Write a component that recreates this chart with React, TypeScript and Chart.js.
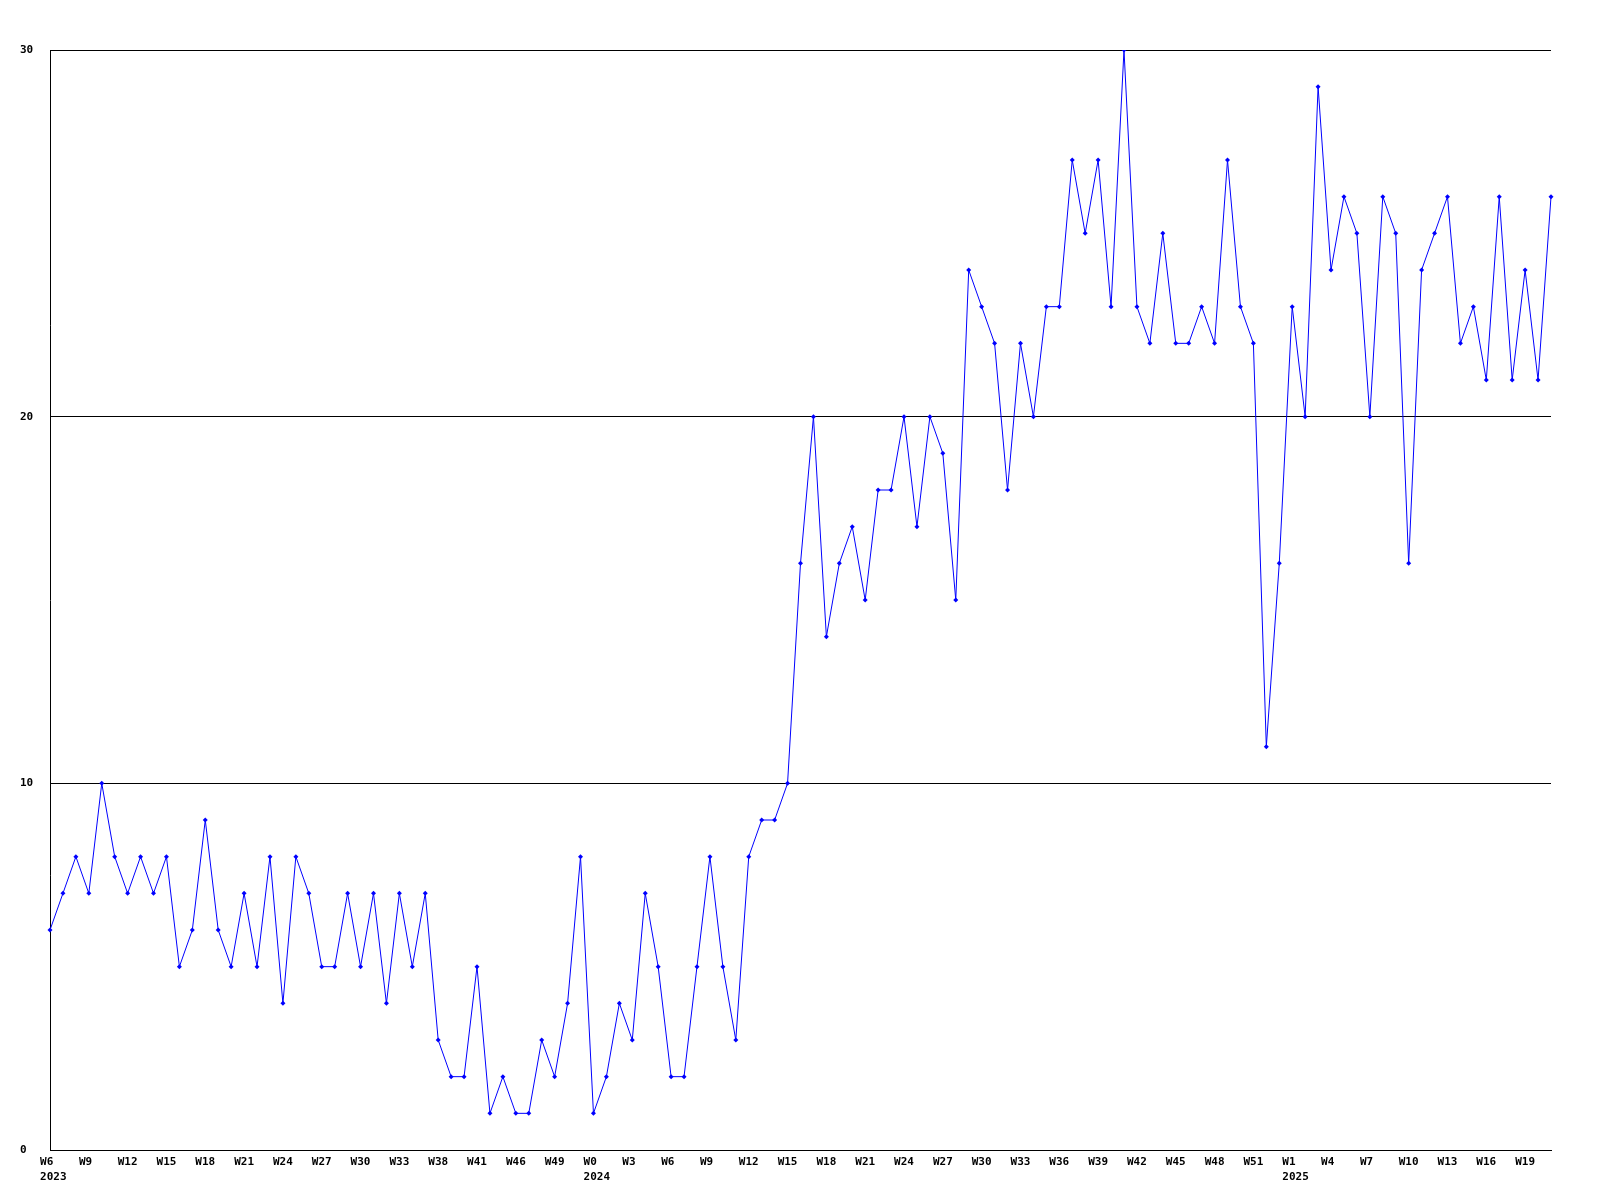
import React, { useEffect, useRef } from "react";
import { Chart, registerables } from "chart.js";

Chart.register(...registerables);

// Weekly values, one per week, from 2023 W6 onward
const values: number[] = [
  6, 7, 8, 7, 10, 8, 7, 8, 7, 8,
  5, 6, 9, 6, 5, 7, 5, 8, 4, 8,
  7, 5, 5, 7, 5, 7, 4, 7, 5, 7,
  3, 2, 2, 5, 1, 2, 1, 1, 3, 2,
  4, 8, 1, 2, 4, 3, 7, 5, 2, 2,
  5, 8, 5, 3, 8, 9, 9, 10, 16, 20,
  14, 16, 17, 15, 18, 18, 20, 17, 20, 19,
  15, 24, 23, 22, 18, 22, 20, 23, 23, 27,
  25, 27, 23, 30, 23, 22, 25, 22, 22, 23,
  22, 27, 23, 22, 11, 16, 23, 20, 29, 24,
  26, 25, 20, 26, 25, 16, 24, 25, 26, 22,
  23, 21, 26, 21, 24, 21, 26,
];

// Shown every 3rd week
const tickLabels: string[] = [
  "W6", "W9", "W12", "W15", "W18", "W21", "W24", "W27", "W30", "W33",
  "W38", "W41", "W46", "W49", "W0", "W3", "W6", "W9", "W12", "W15",
  "W18", "W21", "W24", "W27", "W30", "W33", "W36", "W39", "W42", "W45",
  "W48", "W51", "W1", "W4", "W7", "W10", "W13", "W16", "W19",
];
const tickEvery = 3;
const yearTickIndex: number[] = [0, 14, 32];
const yearLabels: string[] = ["2023", "2024", "2025"];

const yTicks: number[] = [0, 10, 20, 30];

export default function App() {
  const ref = useRef<HTMLCanvasElement | null>(null);

  useEffect(() => {
    if (!ref.current) return;
    const labels = values.map((_, i) => {
      if (i % tickEvery !== 0) return "";
      const k = i / tickEvery;
      const t = (tickLabels[k] || "").padEnd(3, " ");
      const yi = yearTickIndex.indexOf(k);
      return yi >= 0 ? [t, " " + yearLabels[yi]] : t;
    });
    const font = { family: "'DejaVu Sans Mono', monospace", size: 11, weight: "bold" as const, lineHeight: 1.4 };
    const chart = new Chart(ref.current, {
      type: "line",
      data: {
        labels: labels as any,
        datasets: [
          {
            data: values,
            borderColor: "#0000ff",
            backgroundColor: "#0000ff",
            borderWidth: 1,
            pointStyle: "rectRot",
            pointRadius: 2.5,
            pointBorderWidth: 0,
            pointBackgroundColor: "#0000ff",
            tension: 0,
            fill: false,
          },
        ],
      },
      options: {
        animation: false,
        responsive: false,
        devicePixelRatio: 1,
        layout: { padding: { left: 20, top: 50, right: 49, bottom: 0 } },
        plugins: { legend: { display: false }, tooltip: { enabled: false } },
        scales: {
          x: {
            type: "category",
            offset: false,
            grid: { display: false, drawTicks: false },
            border: { display: true, color: "#000", width: 1 },
            ticks: {
              autoSkip: false,
              maxRotation: 0,
              minRotation: 0,
              padding: 4,
              color: "#000",
              font,
            },
            afterFit: (s: any) => {
              s.height = 50;
            },
          },
          y: {
            min: 0,
            max: 30,
            afterBuildTicks: (s: any) => {
              s.ticks = yTicks.map((v) => ({ value: v }));
            },
            grid: { color: "#000", lineWidth: 1, drawTicks: false },
            border: { display: true, color: "#000", width: 1 },
            ticks: {
              crossAlign: "far",
              color: "#000",
              font,
            },
            afterFit: (s: any) => {
              s.width = 30;
            },
          },
        },
      },
    });
    return () => chart.destroy();
  }, []);

  return (
    <div style={{ position: "absolute", left: 0, top: 0, width: 1600, height: 1200, background: "#fff" }}>
      <canvas ref={ref} width={1600} height={1200} style={{ width: 1600, height: 1200, display: "block" }} />
    </div>
  );
}
